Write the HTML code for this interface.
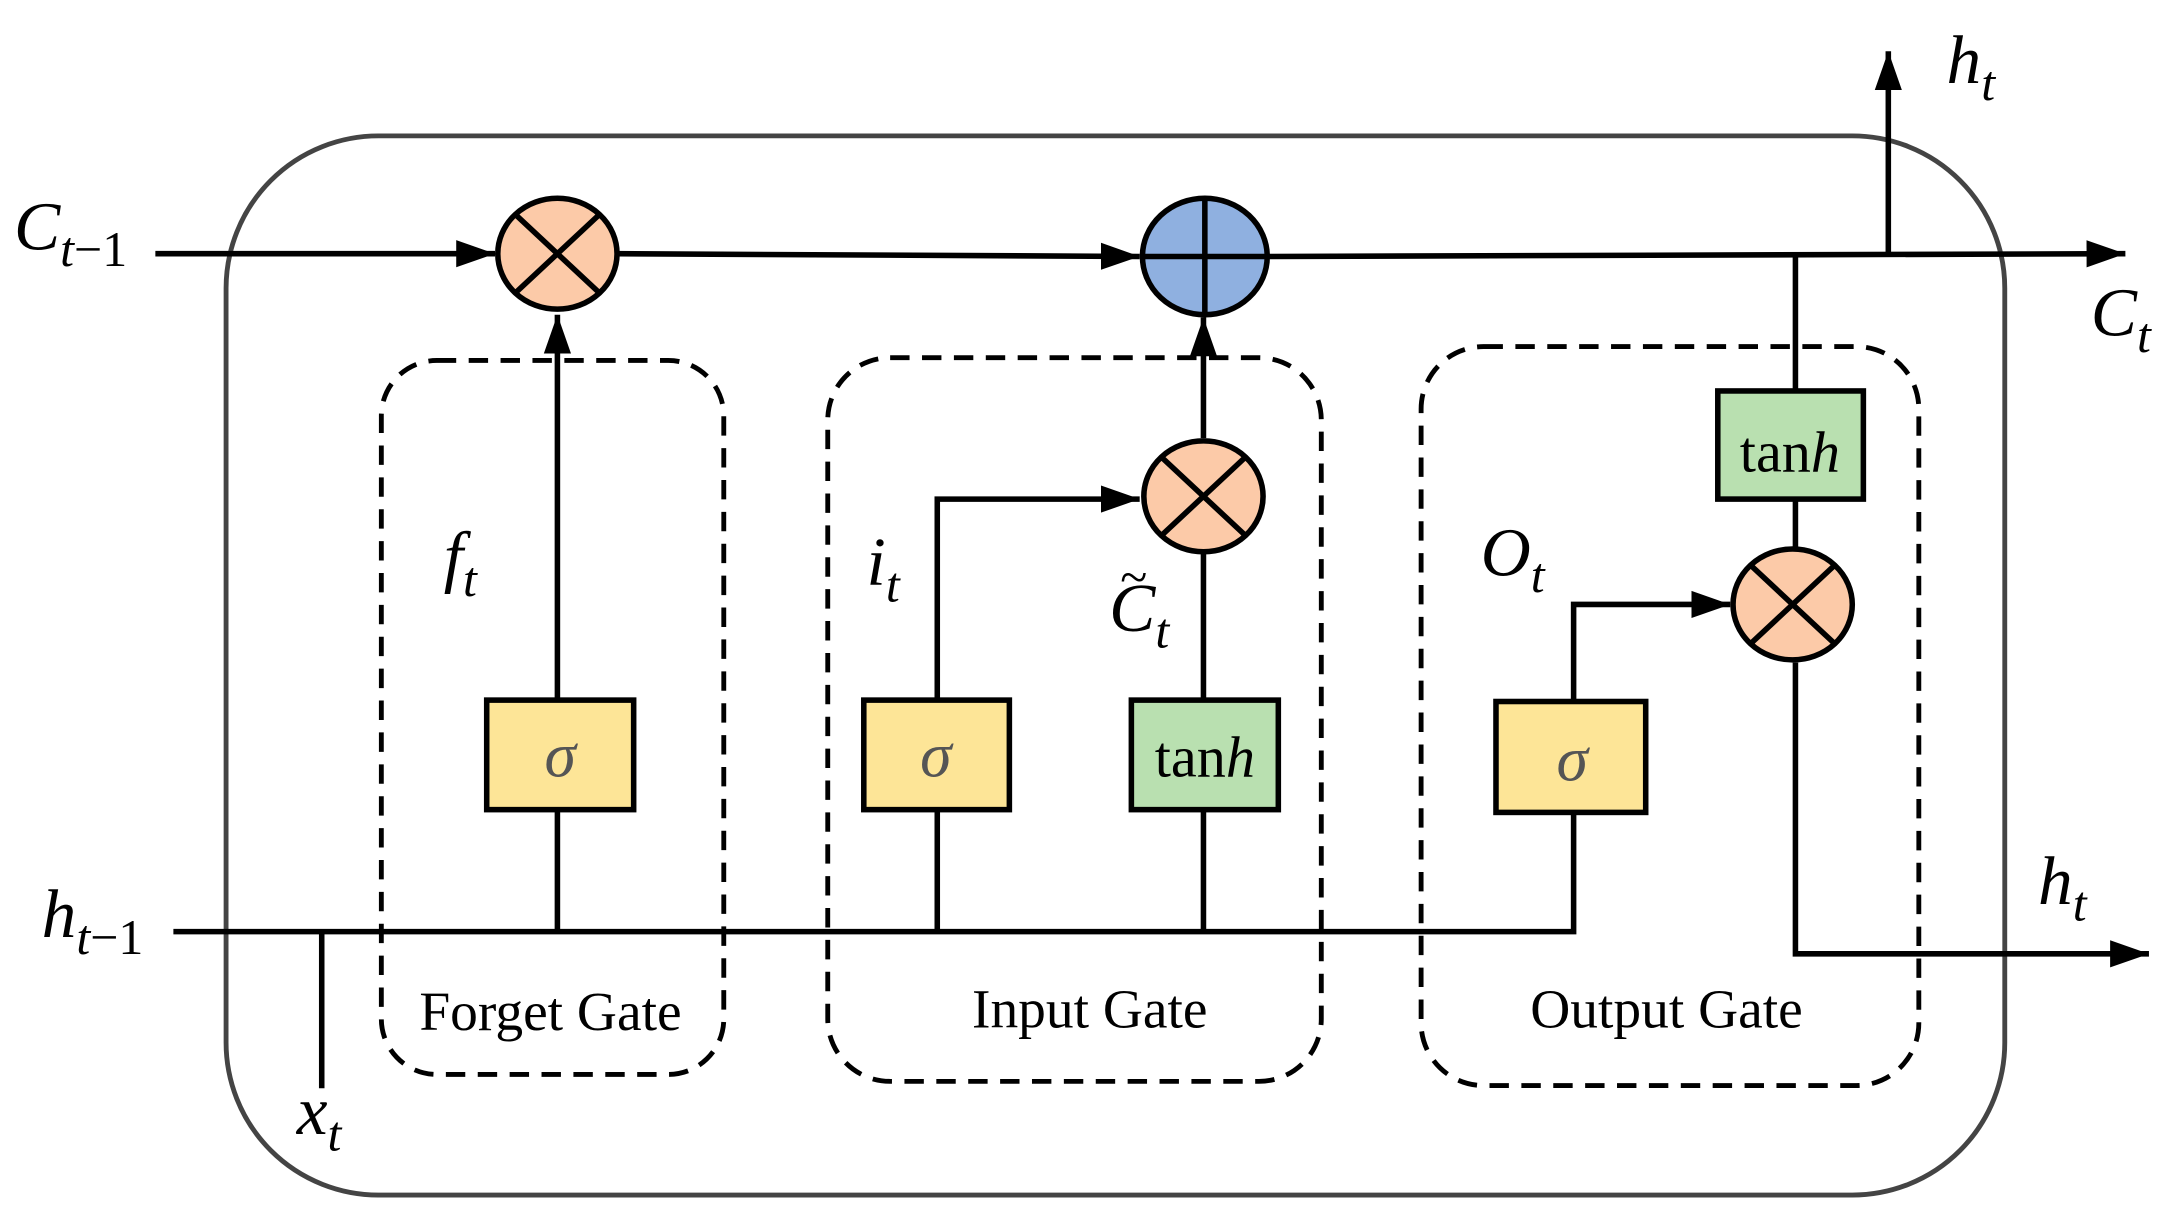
<!DOCTYPE html>
<html><head><meta charset="utf-8"><style>html,body{margin:0;padding:0;background:#fff}svg{display:block}text{font-family:"Liberation Serif","Times New Roman",serif}</style></head>
<body>
<svg width="2174" height="1220" viewBox="0 0 1568 880" xmlns="http://www.w3.org/2000/svg">
<defs>
<marker id="b" viewBox="0 0 10 10" refX="10" refY="5" markerWidth="28" markerHeight="28" markerUnits="userSpaceOnUse" orient="auto"><path d="M0,1.5L10,5L0,8.5z"/></marker>
</defs>
<rect x="163" y="98" width="1283" height="764" rx="110" fill="none" stroke="#444" stroke-width="3.5"/>
<g fill="none" stroke="#000" stroke-width="3.5" stroke-dasharray="14,9">
<rect x="275" y="260" width="247" height="515" rx="40"/>
<rect x="597" y="258" width="356" height="522" rx="45"/>
<rect x="1025" y="250" width="359" height="533" rx="45"/>
</g>
<g fill="none" stroke="#000" stroke-width="4">
<path d="M112,183H357" marker-end="url(#b)"/>
<path d="M445,183L822,185" marker-end="url(#b)"/>
<path d="M915,185L1533,183" marker-end="url(#b)"/>
<path d="M1362,183V37" marker-end="url(#b)"/>
<path d="M402,672V227" marker-end="url(#b)"/>
<path d="M125,672H1135V436H1248" marker-end="url(#b)"/>
<path d="M676,672V360H822" marker-end="url(#b)"/>
<path d="M868,672V398"/>
<path d="M868,316V229" marker-end="url(#b)"/>
<path d="M1295,183V395"/>
<path d="M1295,478V688H1550" marker-end="url(#b)"/>
<path d="M232,672V785"/>
</g>
<g stroke="#000" stroke-width="4">
<ellipse cx="402" cy="183" rx="43" ry="40" fill="#fccaa8"/>
<path d="M372,155L432,211M432,155L372,211"/>
<ellipse cx="869" cy="185" rx="45" ry="42" fill="#8fb0e0"/>
<path d="M869,143V227M824,185H914"/>
<ellipse cx="868" cy="358" rx="43" ry="40" fill="#fccaa8"/>
<path d="M838,330L898,386M898,330L838,386"/>
<ellipse cx="1293" cy="436" rx="43" ry="40" fill="#fccaa8"/>
<path d="M1263,408L1323,464M1323,408L1263,464"/>
<rect x="351" y="505" width="106" height="79" fill="#fde597"/>
<rect x="623" y="505" width="105" height="79" fill="#fde597"/>
<rect x="816" y="505" width="106" height="79" fill="#b9e0b0"/>
<rect x="1079" y="506" width="108" height="80" fill="#fde597"/>
<rect x="1239" y="282" width="105" height="78" fill="#b9e0b0"/>
</g>
<g font-size="46" fill="#555" font-style="italic" text-anchor="middle">
<text x="404" y="560">σ</text><text x="675" y="560">σ</text><text x="1134" y="563">σ</text>
</g>
<g font-size="42" fill="#000" text-anchor="middle">
<text x="869" y="560">tan<tspan font-style="italic">h</tspan></text>
<text x="1291" y="340">tan<tspan font-style="italic">h</tspan></text>
</g>
<g font-size="40" text-anchor="middle">
<text x="397" y="743">Forget Gate</text>
<text x="786" y="741">Input Gate</text>
<text x="1202" y="741">Output Gate</text>
</g>
<g font-size="50" font-style="italic">
<text x="10" y="180">C<tspan font-size="36" dy="12">t</tspan><tspan font-size="36" font-style="normal">−1</tspan></text>
<text x="30" y="676">h<tspan font-size="36" dy="12">t</tspan><tspan font-size="36" font-style="normal">−1</tspan></text>
<text x="1404" y="60">h<tspan font-size="36" dy="12">t</tspan></text>
<text x="1508" y="242">C<tspan font-size="36" dy="12">t</tspan></text>
<text x="1470" y="652">h<tspan font-size="36" dy="12">t</tspan></text>
<text x="320" y="418">f<tspan font-size="36" dy="12">t</tspan></text>
<text x="625" y="422">i<tspan font-size="36" dy="12">t</tspan></text>
<text x="800" y="455">C<tspan font-size="36" dy="12">t</tspan></text>
<text x="808" y="428" font-size="36" font-style="normal">~</text>
<text x="1068" y="415">O<tspan font-size="36" dy="12">t</tspan></text>
<text x="214" y="818">x<tspan font-size="36" dy="12">t</tspan></text>
</g>
</svg>
</body></html>
